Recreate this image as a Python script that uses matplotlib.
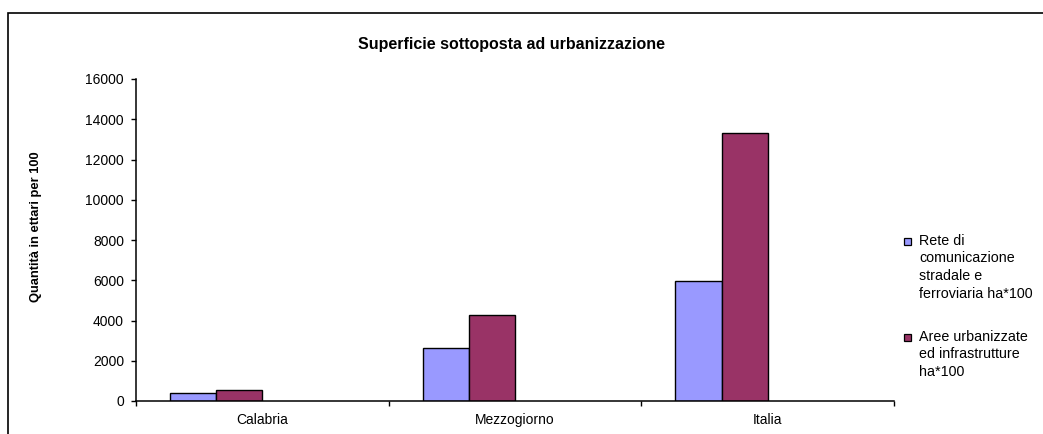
import numpy as np
import matplotlib.pyplot as plt
from matplotlib.patches import Rectangle

# Dati
categorie = ['Calabria', 'Mezzogiorno', 'Italia']
rete_comunicazione = [417, 2634, 5964]
aree_urbanizzate = [532, 4274, 13340]
serie_nomi = [['Rete di', 'comunicazione', 'stradale e', 'ferroviaria ha*100'],
              ['Aree urbanizzate', 'ed infrastrutture', 'ha*100']]
colori = ['#9999FF', '#993366']
yticks = np.arange(0, 16001, 2000)

W, H = 1043, 434
plt.rcParams['font.family'] = ['Liberation Sans', 'DejaVu Sans']

fig = plt.figure(figsize=(W / 100, H / 100), dpi=100)
ax = fig.add_axes([136 / W, 1 - 401 / H, (894 - 136) / W, (401 - 79) / H])


def fx(px):
    return px / W


def fy(py):
    return 1 - py / H


'''
    Barre (4 posti per categoria, come in Excel, solo i primi due usati)
'''
x = np.arange(len(categorie))
larg = 46 / 252
ax.bar(x - 1.5 * larg, rete_comunicazione, larg, color=colori[0], edgecolor='black', linewidth=1)
ax.bar(x - 0.5 * larg, aree_urbanizzate, larg, color=colori[1], edgecolor='black', linewidth=1)

ax.set_xlim(-0.5, len(categorie) - 0.5)
ax.set_ylim(0, 16000)
ax.set_yticks(yticks)
ax.tick_params(axis='y', direction='out', length=3.6, width=1, pad=5, labelsize=10)
ax.set_xticks(x, categorie)
ax.tick_params(axis='x', which='major', length=0, pad=16.5, labelsize=10)
for etichetta in ax.get_xticklabels():
    etichetta.set_verticalalignment('baseline')
ax.set_xticks(np.arange(-0.5, len(categorie)), minor=True)
ax.tick_params(axis='x', which='minor', direction='out', length=3.6, width=1)

for lato in ['top', 'right']:
    ax.spines[lato].set_visible(False)
for lato in ['left', 'bottom']:
    ax.spines[lato].set_linewidth(1.1)

ax.set_ylabel('Quantità in ettari per 100', fontsize=9.3, fontweight='bold')
ax.yaxis.set_label_coords((42 - 136) / 757, (401 - 227) / 322)

fig.text(0.49, fy(45), 'Superficie sottoposta ad urbanizzazione', ha='center', va='center',
         fontsize=11.5, fontweight='bold')

'''
    Legenda disegnata a mano (quadratino allineato alla prima riga)
'''
basi = [245, 341]
for nome, colore, base in zip(serie_nomi, colori, basi):
    fig.patches.append(Rectangle((fx(904), fy(base - 0.5)), 7 / W, 7 / H, transform=fig.transFigure,
                                 facecolor=colore, edgecolor='black', linewidth=0.9))
    for i, riga in enumerate(nome):
        fig.text(fx(919), fy(base + i * 17.5), riga, ha='left', va='baseline', fontsize=10.3)

# cornice esterna del grafico
fig.patches.append(Rectangle((fx(8), -0.1), 1.2, fy(13) + 0.1, transform=fig.transFigure,
                             fill=False, edgecolor='black', linewidth=1.2, clip_on=False))

fig.savefig('out.png', dpi=100)
